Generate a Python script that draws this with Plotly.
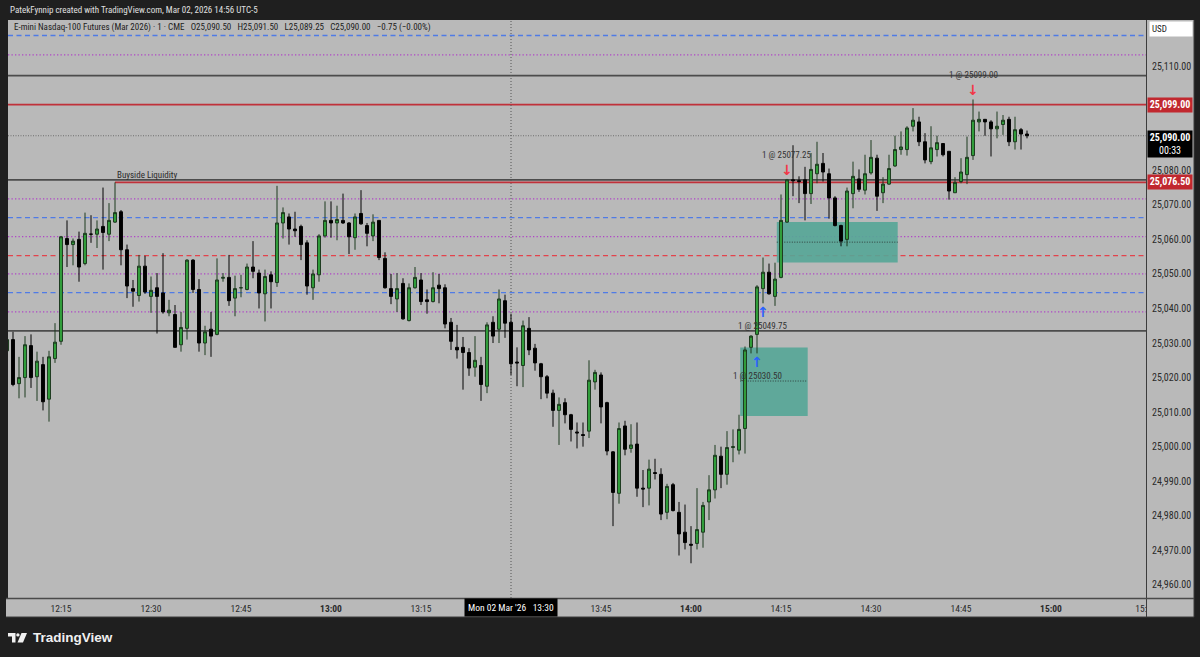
import plotly.graph_objects as go
import pandas as pd

# ---------------- data (1-minute candles, 12:06 .. 14:56) ----------------
start_time = "2026-03-02 12:06"
opens = [
    25027.75, 25031.0, 25018.25, 25020.0, 25029.25, 25020.25, 25023.75, 25013.75, 25025.5, 25030.5,
    25060.25, 25058.5, 25060.0, 25053.0, 25061.5, 25061.5, 25063.75, 25061.5, 25065.0, 25068.0,
    25057.0, 25045.75, 25043.75, 25052.25, 25043.5, 25046.0, 25044.5, 25038.75, 25038.25, 25029.5,
    25034.25, 25054.0, 25045.5, 25030.0, 25034.0, 25032.5, 25048.75, 25049.0, 25043.0, 25046.0,
    25045.5, 25052.0, 25050.25, 25044.25, 25049.75, 25047.5, 25064.75, 25066.5, 25063.0, 25063.75,
    25059.0, 25046.0, 25049.75, 25061.0, 25065.5, 25064.75, 25065.5, 25064.75, 25060.5, 25067.5,
    25064.0, 25061.0, 25065.5, 25054.5, 25045.75, 25042.75, 25047.25, 25036.5, 25046.0, 25048.25,
    25042.5, 25042.0, 25046.75, 25046.0, 25036.0, 25028.75, 25028.75, 25027.25, 25023.0, 25023.5,
    25017.5, 25036.0, 25034.0, 25042.25, 25036.0, 25024.5, 25023.5, 25034.25, 25028.5, 25024.0,
    25020.25, 25015.5, 25010.5, 25012.75, 25009.25, 25004.25, 25003.5, 25004.5, 25018.75, 25020.75,
    25012.75, 24998.5, 24986.5, 25006.0, 24999.5, 25000.75, 24988.0, 24988.0, 24992.5, 24992.0,
    24981.0, 24989.0, 24981.0, 24975.25, 24971.75, 24972.0, 24975.25, 24984.0, 24987.5, 24997.25,
    24992.0, 24999.75, 24999.0, 25005.25, 25028.75, 25032.5, 25045.75, 25050.5, 25043.5, 25049.0,
    25065.0, 25077.25, 25077.0, 25077.25, 25073.25, 25079.0, 25082.0, 25079.0, 25072.0, 25064.0,
    25060.0, 25073.25, 25077.5, 25074.25, 25079.25, 25083.5, 25073.5, 25076.0, 25081.25, 25086.0,
    25086.0, 25092.75, 25094.0, 25088.25, 25082.5, 25086.0, 25087.75, 25085.5, 25073.5, 25076.75,
    25078.75, 25084.25, 25094.0, 25094.75, 25094.0, 25092.0, 25093.25, 25094.75, 25088.25, 25091.75,
    25090.5,
]
highs = [
    25040.5, 25033.25, 25026.0, 25032.0, 25032.5, 25027.5, 25026.0, 25027.75, 25035.75, 25061.0,
    25065.5, 25060.25, 25062.25, 25067.75, 25067.0, 25065.5, 25075.0, 25070.5, 25076.5, 25068.5,
    25058.5, 25048.25, 25055.5, 25055.25, 25049.25, 25050.25, 25056.0, 25042.5, 25041.0, 25039.0,
    25054.25, 25054.25, 25048.5, 25035.0, 25039.0, 25054.5, 25050.25, 25055.5, 25049.5, 25049.75,
    25053.0, 25059.5, 25051.25, 25051.25, 25050.75, 25075.5, 25069.25, 25067.5, 25068.0, 25064.25,
    25059.75, 25051.25, 25061.5, 25071.0, 25071.0, 25069.75, 25073.25, 25065.0, 25067.5, 25074.25,
    25064.75, 25067.25, 25065.5, 25056.25, 25050.0, 25050.25, 25048.75, 25047.25, 25052.0, 25050.25,
    25045.5, 25050.5, 25050.0, 25047.0, 25037.25, 25035.25, 25031.75, 25028.5, 25032.0, 25026.0,
    25036.0, 25037.75, 25045.5, 25044.0, 25038.5, 25028.75, 25036.5, 25037.5, 25029.75, 25024.25,
    25020.75, 25016.5, 25014.25, 25014.0, 25009.5, 25007.0, 25007.0, 25025.0, 25022.25, 25021.5,
    25013.0, 24998.75, 25007.0, 25007.5, 25006.5, 25007.0, 24993.25, 24996.25, 24996.5, 24993.75,
    24989.25, 24989.5, 24984.0, 24983.25, 24977.0, 24988.0, 24984.0, 24991.75, 25000.5, 25000.0,
    25004.5, 25005.0, 25009.25, 25029.0, 25032.25, 25046.75, 25054.75, 25053.0, 25053.25, 25073.0,
    25077.5, 25087.25, 25078.25, 25081.0, 25085.0, 25088.25, 25085.0, 25080.5, 25072.5, 25064.25,
    25075.0, 25082.5, 25080.25, 25084.5, 25088.75, 25084.5, 25078.0, 25084.5, 25090.0, 25091.25,
    25092.75, 25098.0, 25095.5, 25090.75, 25092.75, 25090.0, 25087.75, 25085.5, 25078.0, 25083.5,
    25089.75, 25100.5, 25097.0, 25094.75, 25094.5, 25097.0, 25096.0, 25095.5, 25095.5, 25092.25,
    25091.5,
]
lows = [
    25027.5, 25017.5, 25014.0, 25014.25, 25017.0, 25013.25, 25010.5, 25007.25, 25024.25, 25029.5,
    25052.0, 25052.5, 25047.75, 25052.5, 25059.0, 25057.5, 25051.25, 25059.5, 25064.75, 25052.5,
    25043.0, 25040.5, 25042.0, 25044.25, 25038.75, 25032.75, 25038.5, 25037.75, 25028.75, 25027.5,
    25031.0, 25044.5, 25027.5, 25026.5, 25026.0, 25032.25, 25047.75, 25040.75, 25037.75, 25043.25,
    25045.25, 25048.75, 25040.0, 25036.25, 25040.0, 25046.25, 25060.25, 25058.5, 25060.75, 25054.0,
    25044.0, 25042.5, 25047.75, 25060.5, 25060.5, 25059.75, 25064.5, 25055.75, 25057.0, 25064.25,
    25058.0, 25059.5, 25054.0, 25045.75, 25041.25, 25039.0, 25036.75, 25036.25, 25045.75, 25041.0,
    25038.5, 25041.75, 25041.5, 25034.25, 25028.0, 25025.5, 25016.5, 25020.5, 25020.25, 25013.25,
    25015.5, 25030.0, 25030.0, 25031.5, 25020.75, 25017.5, 25017.25, 25026.5, 25022.0, 25013.75,
    25014.0, 25005.75, 25000.5, 25006.75, 25001.5, 24999.5, 25000.0, 25002.5, 25016.5, 25006.75,
    24997.5, 24977.0, 24983.5, 24997.5, 24998.25, 24985.5, 24982.5, 24983.0, 24990.5, 24978.75,
    24979.0, 24981.25, 24968.5, 24970.25, 24966.25, 24970.25, 24970.75, 24978.75, 24985.0, 24988.0,
    24989.0, 24995.5, 24997.75, 24998.0, 25027.0, 25027.0, 25041.5, 25044.0, 25040.75, 25048.75,
    25064.75, 25072.5, 25070.5, 25065.5, 25070.25, 25076.25, 25076.75, 25066.0, 25063.75, 25058.0,
    25058.0, 25069.0, 25073.75, 25073.0, 25078.75, 25068.25, 25070.5, 25075.75, 25081.0, 25084.5,
    25084.25, 25091.25, 25087.0, 25082.0, 25081.75, 25084.0, 25084.0, 25071.5, 25073.5, 25076.25,
    25076.0, 25083.0, 25091.25, 25090.0, 25084.0, 25089.25, 25090.25, 25087.0, 25086.0, 25086.0,
    25089.25,
]
closes = [
    25031.0, 25018.0, 25020.0, 25029.5, 25020.0, 25024.75, 25013.0, 25026.0, 25030.25, 25060.75,
    25058.5, 25059.5, 25052.0, 25061.75, 25061.5, 25063.0, 25062.0, 25065.5, 25067.75, 25057.0,
    25046.5, 25045.0, 25052.25, 25044.75, 25045.25, 25043.5, 25039.0, 25039.5, 25028.75, 25034.5,
    25054.0, 25045.5, 25030.0, 25033.25, 25032.0, 25048.25, 25049.0, 25042.25, 25045.75, 25046.0,
    25052.0, 25050.75, 25044.5, 25049.25, 25047.75, 25064.75, 25067.75, 25063.0, 25062.5, 25058.5,
    25046.5, 25050.0, 25061.0, 25065.5, 25064.75, 25065.75, 25064.75, 25060.75, 25066.5, 25064.5,
    25061.75, 25065.0, 25054.75, 25046.0, 25043.5, 25045.75, 25037.0, 25046.0, 25049.0, 25042.0,
    25042.0, 25046.0, 25045.75, 25035.5, 25030.5, 25028.0, 25027.25, 25022.75, 25025.0, 25018.0,
    25035.25, 25032.0, 25042.75, 25035.75, 25024.0, 25024.25, 25035.0, 25028.0, 25024.25, 25020.25,
    25015.5, 25010.5, 25012.25, 25009.25, 25005.0, 25004.0, 25003.25, 25019.25, 25021.5, 25011.5,
    24998.75, 24986.75, 25005.25, 24999.25, 25000.5, 24988.0, 24987.75, 24993.5, 24992.25, 24980.5,
    24988.5, 24981.5, 24974.75, 24972.25, 24971.5, 24976.0, 24983.0, 24987.5, 24997.5, 24992.0,
    24999.75, 25000.0, 25005.0, 25028.0, 25032.0, 25046.25, 25050.5, 25044.25, 25048.5, 25065.5,
    25077.25, 25077.0, 25076.75, 25073.25, 25080.25, 25081.75, 25079.5, 25072.0, 25064.0, 25059.5,
    25074.0, 25078.25, 25074.5, 25079.0, 25083.75, 25072.5, 25076.0, 25080.5, 25086.0, 25086.75,
    25092.25, 25094.5, 25088.25, 25083.0, 25086.5, 25088.0, 25084.5, 25074.0, 25076.5, 25079.5,
    25083.75, 25094.5, 25094.75, 25094.0, 25092.0, 25092.75, 25094.5, 25088.25, 25091.75, 25090.5,
    25090.0,
]

# horizontal levels
level_prices = [25119.0, 25113.4, 25107.4, 25099.0, 25090.0, 25077.25, 25071.75,
                25066.3, 25060.8, 25055.3, 25050.0, 25044.6, 25039.0, 25033.5]
level_kinds = ["blue", "purple", "gray", "red", "last", "gray", "purple",
               "blue", "purple", "reddash", "purple", "blue", "purple", "gray"]

# buyside liquidity ray
liq_start = "2026-03-02 12:24"
liq_price = 25076.5
liq_label = "Buyside Liquidity"

# zones (teal rectangles)
zone_t0 = ["2026-03-02 14:08:12", "2026-03-02 14:14:18"]
zone_t1 = ["2026-03-02 14:19:27", "2026-03-02 14:34:27"]
zone_top = [25028.7, 25065.0]
zone_bot = [25008.9, 25053.3]
zone_mid = [25019.0, 25059.2]

# executions
trade_times = ["2026-03-02 14:11", "2026-03-02 14:12", "2026-03-02 14:16", "2026-03-02 14:47"]
trade_prices = [25030.50, 25049.75, 25077.25, 25099.00]
trade_sides = ["buy", "buy", "sell", "sell"]

# axis ticks (25,090 and 25,100 sit under the price badges)
y_ticks = [24960, 24970, 24980, 24990, 25000, 25010, 25020, 25030, 25040,
           25050, 25060, 25070, 25080, 25110]
x_tick_times = ["12:15", "12:30", "12:45", "13:00", "13:15", "13:45",
                "14:00", "14:15", "14:30", "14:45", "15:00", "15:15"]
x_tick_text = ["12:15", "12:30", "12:45", "<b>13:00</b>", "13:15", "13:45",
               "<b>14:00</b>", "14:15", "14:30", "14:45", "<b>15:00</b>", "15:"]
crosshair_time = "2026-03-02 13:30"
crosshair_label = "Mon 02 Mar '26\u00a0\u00a0 13:30"

# ---------------- figure geometry ----------------
W, H = 1200, 657
ML, MR, MT, MB = 8, 54, 20, 59
PW, PH = W - ML - MR, H - MT - MB


def sx(px):
    return (px - ML) / PW


def sy(py):
    return (H - MB - py) / PH


FONT = "Liberation Sans Narrow, Roboto Condensed, Liberation Sans, Arial, sans-serif"
BG_DARK = "#1f1f1f"
BG_PANE = "#b9b9b9"

times = pd.date_range(start_time, periods=len(opens), freq="min")

fig = go.Figure()
fig.add_trace(go.Candlestick(
    x=times, open=opens, high=highs, low=lows, close=closes,
    increasing=dict(line=dict(color="#1d3a1f", width=1), fillcolor="#32a03c"),
    decreasing=dict(line=dict(color="#050505", width=1), fillcolor="#000000"),
    whiskerwidth=0, showlegend=False, hoverinfo="skip",
))

shapes = []
# axis strips
shapes.append(dict(type="rect", xref="paper", yref="paper", x0=sx(1146), x1=sx(1194),
                   y0=sy(617), y1=sy(20), fillcolor=BG_PANE, line=dict(width=0), layer="below"))
shapes.append(dict(type="rect", xref="paper", yref="paper", x0=sx(6), x1=sx(1194),
                   y0=sy(617), y1=sy(598), fillcolor=BG_PANE, line=dict(width=0), layer="below"))
shapes.append(dict(type="line", xref="paper", yref="paper", x0=sx(1146.5), x1=sx(1146.5),
                   y0=sy(617), y1=sy(20), line=dict(color="#3c3c3c", width=1)))
shapes.append(dict(type="line", xref="paper", yref="paper", x0=sx(1194), x1=sx(1194),
                   y0=sy(617), y1=sy(20), line=dict(color="#3c3c3c", width=1)))
shapes.append(dict(type="line", xref="paper", yref="paper", x0=sx(6), x1=sx(1194),
                   y0=sy(598.5), y1=sy(598.5), line=dict(color="#4a4a4a", width=1.5)))
shapes.append(dict(type="line", xref="paper", yref="paper", x0=sx(6), x1=sx(1194),
                   y0=sy(617), y1=sy(617), line=dict(color="#3c3c3c", width=1)))

styles = {
    "blue": dict(color="#4f7be6", width=1.4, dash="5px,3.5px"),
    "purple": dict(color="#b046c6", width=1.3, dash="1.3px,2.2px"),
    "gray": dict(color="#4c4c4c", width=1.7),
    "red": dict(color="#c0313a", width=1.7),
    "reddash": dict(color="#e3434c", width=1.4, dash="5px,3.5px"),
    "last": dict(color="#6e6e6e", width=1, dash="1px,1.5px"),
}
for p, k in zip(level_prices, level_kinds):
    shapes.append(dict(type="line", xref="paper", yref="y", x0=0, x1=1, y0=p, y1=p,
                       line=styles[k], layer="below"))

x_end = "2026-03-02 15:15:50"
shapes.append(dict(type="line", xref="x", yref="y", x0=liq_start, x1=x_end, y0=liq_price,
                   y1=liq_price, line=dict(color="#c0313a", width=1.7), layer="below"))

# crosshair
shapes.append(dict(type="line", xref="x", yref="paper", x0=crosshair_time, x1=crosshair_time,
                   y0=0, y1=1, line=dict(color="#555555", width=1, dash="1px,2px"), layer="below"))

# zones
for t0, t1, top, bot, mid in zip(zone_t0, zone_t1, zone_top, zone_bot, zone_mid):
    shapes.append(dict(type="rect", xref="x", yref="y", x0=t0, x1=t1, y0=bot, y1=top,
                       fillcolor="#55a697", opacity=0.9, line=dict(width=0), layer="below"))
    shapes.append(dict(type="line", xref="x", yref="y", x0=t0, x1=t1, y0=mid, y1=mid,
                       line=dict(color="#2f3f3c", width=1, dash="1px,1.5px"), layer="below"))

# TradingView logo (decoration)
def P(px, py):
    return f"{sx(px):.5f},{sy(py):.5f}"

shapes.append(dict(type="path", xref="paper", yref="paper",
                   path=f"M{P(8,633)} L{P(15.5,633)} L{P(15.5,642.5)} L{P(12,642.5)} L{P(12,636.5)} L{P(8,636.5)} Z",
                   fillcolor="#f0f0f0", line=dict(width=0)))
shapes.append(dict(type="circle", xref="paper", yref="paper", x0=sx(16.2), x1=sx(19.6),
                   y0=sy(636.6), y1=sy(633.2), fillcolor="#f0f0f0", line=dict(width=0)))
shapes.append(dict(type="path", xref="paper", yref="paper",
                   path=f"M{P(21.5,633)} L{P(27,633)} L{P(23,642.5)} L{P(17.5,642.5)} Z",
                   fillcolor="#f0f0f0", line=dict(width=0)))

annotations = []
# header
annotations.append(dict(xref="paper", yref="paper", x=sx(8), y=sy(10), xanchor="left", yanchor="middle",
                        text="PatekFynnip created with TradingView.com, Mar 02, 2026 14:56 UTC-5",
                        showarrow=False, font=dict(family=FONT, size=9, color="#e0e0e0")))
nb = "\u00a0"
legend_txt = (f"E-mini Nasdaq-100 Futures (Mar 2026) · 1 · CME{nb}{nb} O25,090.50{nb}{nb} H25,091.50"
              f"{nb}{nb} L25,089.25{nb}{nb} C25,090.00{nb}{nb} −0.75 (−0.00%)")
annotations.append(dict(xref="paper", yref="paper", x=sx(12), y=sy(27.5), xanchor="left", yanchor="middle",
                        text=legend_txt, showarrow=False, font=dict(family=FONT, size=9, color="#1c1c1c")))
# buyside liquidity label
annotations.append(dict(xref="x", yref="y", x=liq_start, y=25077.25, xanchor="left", yanchor="bottom",
                        text=liq_label, showarrow=False, yshift=-2,
                        font=dict(family=FONT, size=9, color="#2a2a2a")))

# executions
time_index = {t: i for i, t in enumerate(times)}
for t, p, s in zip(trade_times, trade_prices, trade_sides):
    i = time_index[pd.Timestamp(t)]
    if s == "sell":
        ref = highs[i]
        arrow, col, sh_a, sh_t = "↓", "#f23645", 9, 24
    else:
        ref = lows[i]
        arrow, col, sh_a, sh_t = "↑", "#2962ff", -9, -23
    annotations.append(dict(xref="x", yref="y", x=t, y=ref, yshift=sh_a, text=f"<b>{arrow}</b>",
                            showarrow=False, font=dict(family="DejaVu Sans", size=14, color=col)))
    annotations.append(dict(xref="x", yref="y", x=t, y=ref, yshift=sh_t, text=f"1 @ {p:.2f}",
                            showarrow=False, font=dict(family=FONT, size=9, color="#333333")))

# price axis badges
def badge(price, text, bg, yanchor="middle", yshift=0):
    return dict(xref="paper", yref="y", x=sx(1146.5), y=price, xanchor="left", yanchor=yanchor,
                yshift=yshift, text=text, showarrow=False, bgcolor=bg, width=42, borderpad=1,
                align="center", font=dict(family=FONT, size=10, color="#ffffff"))

annotations.append(badge(25099.0, "<b>25,099.00</b>", "#c1282f"))
annotations.append(badge(25076.5, "<b>25,076.50</b>", "#c1282f"))
annotations.append(badge(25090.0, "<b>25,090.00</b><br>00:33", "#000000", yanchor="top", yshift=6))
annotations.append(dict(xref="paper", yref="paper", x=sx(1149), y=sy(29), xanchor="left", yanchor="middle",
                        text="USD", showarrow=False, bgcolor="#ffffff", width=38, borderpad=2,
                        align="left", font=dict(family=FONT, size=9, color="#222222")))
# crosshair time label
annotations.append(dict(xref="x", yref="paper", x=crosshair_time, y=sy(607.5), xanchor="center",
                        yanchor="middle", text=crosshair_label, showarrow=False, bgcolor="#000000",
                        borderpad=3, font=dict(family=FONT, size=9.5, color="#ffffff")))
# TradingView wordmark
annotations.append(dict(xref="paper", yref="paper", x=sx(31), y=sy(637.5), xanchor="left", yanchor="middle",
                        text="<b>TradingView</b>", showarrow=False,
                        font=dict(family="Liberation Sans, Arial, sans-serif", size=13.5, color="#f0f0f0")))

fig.update_layout(
    width=W, height=H,
    margin=dict(l=ML, r=MR, t=MT, b=MB, pad=0),
    paper_bgcolor=BG_DARK, plot_bgcolor=BG_PANE,
    shapes=shapes, annotations=annotations,
    showlegend=False,
    xaxis=dict(
        type="date", range=["2026-03-02 12:06:10", x_end],
        rangeslider=dict(visible=False),
        showgrid=False, zeroline=False, showline=False, ticks="",
        tickvals=[f"2026-03-02 {t}" for t in x_tick_times], ticktext=x_tick_text,
        tickfont=dict(family=FONT, size=9.5, color="#2a2a2a"),
        ticklabelstandoff=3,
    ),
    yaxis=dict(
        side="right", range=[24956.2, 25123.5],
        showgrid=False, zeroline=False, showline=False, ticks="",
        tickvals=y_ticks, tickformat=",.2f",
        tickfont=dict(family=FONT, size=10, color="#2a2a2a"),
        ticklabelstandoff=5,
    ),
)

page_fix = ("document.body.style.margin='0';document.body.style.padding='0';"
            "document.body.style.background='#1f1f1f';document.body.style.overflow='hidden';")
fig.write_html("out.html", post_script=page_fix, config={"displayModeBar": False})
